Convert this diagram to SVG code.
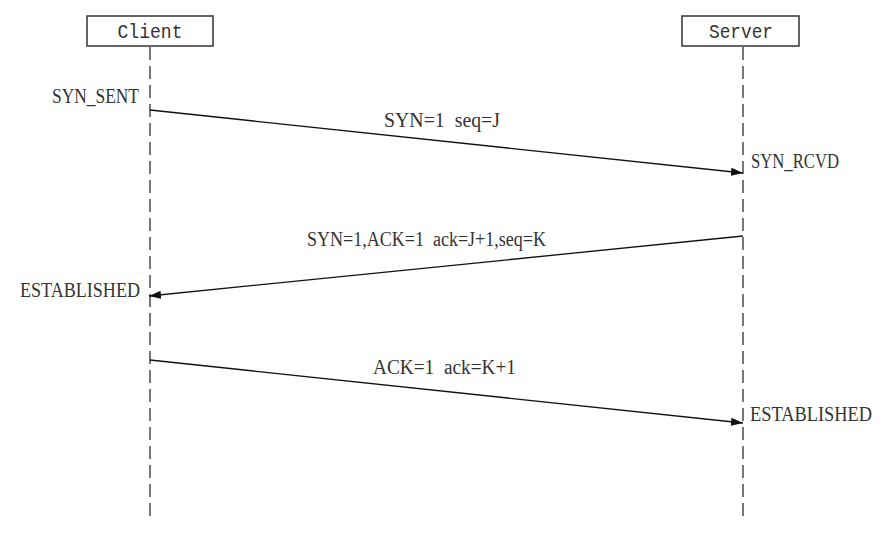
<svg xmlns="http://www.w3.org/2000/svg" width="894" height="535" viewBox="0 0 894 535">
<defs>
<style>
.box{fill:#fff;stroke:#333;stroke-width:1.5}
.life{stroke:#777;stroke-width:2;stroke-dasharray:13 6;fill:none}
.msg{stroke:#111;stroke-width:1.3;fill:none}
.t{font-family:"Liberation Serif",serif;font-size:20px;fill:#333}
.h{font-family:"Liberation Mono",monospace;font-size:21px;fill:#333}
</style>
<marker id="ah" viewBox="0 0 12 8" refX="12" refY="4" markerWidth="12" markerHeight="8" markerUnits="userSpaceOnUse" orient="auto">
<path d="M0,0 L12,4 L0,8 Z" fill="#111"/>
</marker>
</defs>
<rect width="894" height="535" fill="#fff"/>
<g id="client">
<rect class="box" x="87" y="16" width="126" height="30"/>
<text class="h" x="150" y="38" text-anchor="middle" textLength="65" lengthAdjust="spacingAndGlyphs">Client</text>
<line class="life" x1="150" y1="47" x2="150" y2="519"/>
</g>
<g id="server">
<rect class="box" x="682" y="16" width="117" height="30"/>
<text class="h" x="741" y="38" text-anchor="middle" textLength="64" lengthAdjust="spacingAndGlyphs">Server</text>
<line class="life" x1="743" y1="47" x2="743" y2="519"/>
</g>
<g id="states">
<text class="t" x="52" y="103" textLength="87" lengthAdjust="spacingAndGlyphs">SYN_SENT</text>
<text class="t" x="751" y="168" textLength="88" lengthAdjust="spacingAndGlyphs">SYN_RCVD</text>
<text class="t" x="20" y="297" textLength="120" lengthAdjust="spacingAndGlyphs">ESTABLISHED</text>
<text class="t" x="750" y="421" textLength="122" lengthAdjust="spacingAndGlyphs">ESTABLISHED</text>
</g>
<g id="connectors">
<line class="msg" x1="150" y1="110" x2="743" y2="173" marker-end="url(#ah)"/>
<line class="msg" x1="743" y1="236" x2="149" y2="296" marker-end="url(#ah)"/>
<line class="msg" x1="150" y1="360" x2="743" y2="423" marker-end="url(#ah)"/>
<text class="t" x="384" y="127" textLength="116" lengthAdjust="spacingAndGlyphs" xml:space="preserve">SYN=1  seq=J</text>
<text class="t" x="307" y="246" textLength="239" lengthAdjust="spacingAndGlyphs" xml:space="preserve">SYN=1,ACK=1  ack=J+1,seq=K</text>
<text class="t" x="373" y="374" textLength="143" lengthAdjust="spacingAndGlyphs" xml:space="preserve">ACK=1  ack=K+1</text>
</g>
</svg>
